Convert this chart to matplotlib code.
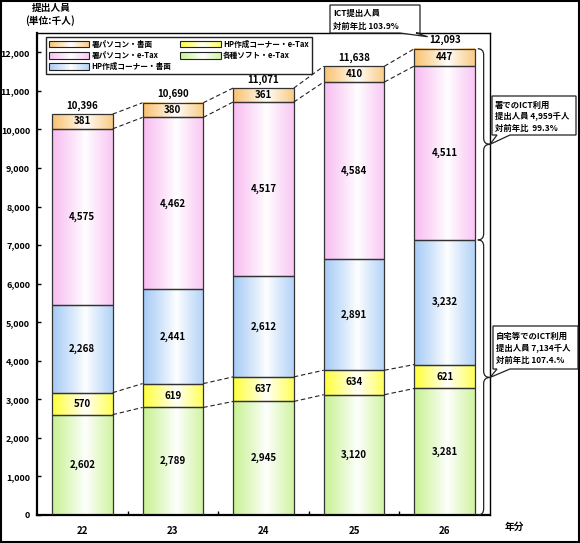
import numpy as np
import matplotlib
matplotlib.use('Agg')
import matplotlib.pyplot as plt
from matplotlib.patches import Rectangle, Polygon, PathPatch
from matplotlib.path import Path
from matplotlib.legend_handler import HandlerBase
import matplotlib.colors as mcolors

plt.rcParams['font.family'] = ['Noto Sans CJK JP', 'DejaVu Sans']
plt.rcParams['font.weight'] = 'bold'

# ---- data ----
years = ['22', '23', '24', '25', '26']
soft_etax = [2602, 2789, 2945, 3120, 3281]      # 各種ソフト・e-Tax
hp_etax = [570, 619, 637, 634, 621]             # HP作成コーナー・e-Tax
hp_paper = [2268, 2441, 2612, 2891, 3232]       # HP作成コーナー・書面
office_etax = [4575, 4462, 4517, 4584, 4511]    # 署パソコン・e-Tax
office_paper = [381, 380, 361, 410, 447]        # 署パソコン・書面
totals = [10396, 10690, 11071, 11638, 12093]

series_names = ['各種ソフト・e-Tax', 'HP作成コーナー・e-Tax', 'HP作成コーナー・書面',
                '署パソコン・e-Tax', '署パソコン・書面']
series_vals = [soft_etax, hp_etax, hp_paper, office_etax, office_paper]
series_colors = ['#c8f292', '#ffff3a', '#a6cbf6', '#f8bdf2', '#f9c270']

legend_order = [4, 3, 2, 1, 0]

office_callout = ['署でのICT利用', '提出人員 4,959千人', '対前年比  99.3%']
home_callout = ['自宅等でのICT利用', '提出人員 7,134千人', '対前年比 107.4.%']
total_callout = ['ICT提出人員', '対前年比 103.9%']

W, H = 580, 543
FS = 7.0
TFS = 6.5
CFS = 6.0


def grad_color(color, t):
    c = np.array(mcolors.to_rgb(color))
    f = (abs(t - 0.55) / 0.55) ** 0.9
    f = np.clip(f, 0, 1)
    return c * f + np.ones(3) * (1 - f)


def grad_img(color, n=64):
    ts = np.linspace(0, 1, n)
    return np.array([[grad_color(color, t) for t in ts]])


class GradHandler(HandlerBase):
    def create_artists(self, legend, orig_handle, xdescent, ydescent,
                       width, height, fontsize, trans):
        c = orig_handle.get_facecolor()
        n = 30
        arts = []
        for i in range(n):
            t = (i + 0.5) / n
            arts.append(Rectangle((-xdescent + i * width / n, -ydescent),
                                  width / n * 1.08, height,
                                  facecolor=grad_color(c, t), edgecolor='none',
                                  transform=trans))
        arts.append(Rectangle((-xdescent, -ydescent), width, height,
                              facecolor='none', edgecolor='#222222', lw=0.8,
                              transform=trans))
        return arts


fig = plt.figure(figsize=(W / 100, H / 100), dpi=100)
ax = fig.add_axes([37 / W, 28 / H, 453 / W, 482 / H])

x = np.arange(len(years))
w = 0.67
bottom = np.zeros(len(years))
tops = []
for vals, color, name in zip(series_vals, series_colors, series_names):
    bars = ax.bar(x, vals, w, bottom=bottom, color='none', edgecolor='#333333',
                  lw=0.9, zorder=3)
    img = grad_img(color)
    for b, v in zip(bars, vals):
        ax.imshow(img, extent=(b.get_x(), b.get_x() + b.get_width(),
                               b.get_y(), b.get_y() + b.get_height()),
                  aspect='auto', zorder=2, interpolation='bilinear')
        ax.text(b.get_x() + b.get_width() / 2, b.get_y() + b.get_height() / 2,
                f'{v:,}', ha='center', va='center', fontsize=FS,
                fontweight='bold', zorder=5)
    bottom = bottom + np.array(vals)
    tops.append(bottom.copy())

# dashed connectors
for lvl in [tops[0], tops[1], tops[3], tops[4]]:
    for i in range(len(x) - 1):
        ax.plot([x[i] + w / 2, x[i + 1] - w / 2], [lvl[i], lvl[i + 1]],
                ls=(0, (4, 2.5)), color='#222222', lw=0.8, zorder=4)

# totals
for xi, top, t in zip(x, tops[4], totals):
    ax.annotate(f'{t:,}', (xi, top), xytext=(0, 2.5), textcoords='offset points',
                ha='center', va='bottom', fontsize=FS, fontweight='bold')

ax.set_xlim(-0.5, 4.5)
ax.set_ylim(0, 12500)
ax.set_yticks(np.arange(0, 12001, 1000))
ax.set_yticklabels([f'{v:,}' for v in range(0, 12001, 1000)])
ax.set_xticks(x)
ax.set_xticklabels(years)
ax.set_xticks(x[:-1] + 0.5, minor=True)
ax.tick_params(axis='x', which='major', length=0, pad=8, labelsize=FS)
ax.tick_params(axis='x', which='minor', direction='in', length=3, width=1)
ax.tick_params(axis='y', direction='in', length=3, width=1, pad=5, labelsize=TFS)
for lab in ax.get_xticklabels() + ax.get_yticklabels():
    lab.set_fontweight('bold')
for s in ['left', 'bottom']:
    ax.spines[s].set_linewidth(1.6)
for s in ['top', 'right']:
    ax.spines[s].set_linewidth(1.0)


def brace(y_top, y_bot):
    x0 = 4 + w / 2 + 0.03
    xl = 4.43
    x1 = 4.5
    r = 160
    ym = (y_top + y_bot) / 2
    verts = [(x0, y_top), (xl, y_top), (xl, y_top - r),
             (xl, ym + r), (xl, ym), (x1, ym),
             (xl, ym), (xl, ym - r),
             (xl, y_bot + r), (xl, y_bot), (x0, y_bot)]
    codes = [Path.MOVETO, Path.CURVE3, Path.CURVE3, Path.LINETO,
             Path.CURVE3, Path.CURVE3, Path.CURVE3, Path.CURVE3,
             Path.LINETO, Path.CURVE3, Path.CURVE3]
    ax.add_patch(PathPatch(Path(verts, codes), facecolor='none',
                           edgecolor='#222222', lw=0.9, clip_on=False, zorder=6))
    return (x1, ym)


tip1 = brace(tops[4][4], tops[2][4])
tip2 = brace(tops[2][4], 0)


def to_px(pt):
    d = ax.transData.transform(pt)
    return d[0], H - d[1]


def callout(box, tail, tip, lines, tx, ty, dy):
    x0, y0, x1, y1 = box
    ta, tb = tail
    pts = [(x0, y0), (x1, y0), (x1, y1), (tb, y1), tip, (ta, y1), (x0, y1)]
    pts = [(px / W, 1 - py / H) for px, py in pts]
    fig.patches.append(Polygon(pts, closed=True, facecolor='white',
                               edgecolor='#222222', lw=0.9,
                               transform=fig.transFigure, zorder=10))
    for i, line in enumerate(lines):
        fig.text(tx / W, 1 - (ty + i * dy) / H, line, ha='left', va='center',
                 fontsize=CFS, fontweight='bold', zorder=11)


callout((492, 96, 576, 135), (497, 510), to_px(tip1), office_callout, 495, 105, 12)
callout((493, 326, 578, 369), (497, 510), to_px(tip2), home_callout, 496, 336, 12.5)
tx, ty = to_px((4, tops[4][4]))
callout((330, 5, 420, 33), (400, 416), (tx - 17, ty - 12), total_callout, 333, 13, 13)

# legend
proxies = [Rectangle((0, 0), 1, 1, facecolor=series_colors[i]) for i in legend_order]
labels = [series_names[i] for i in legend_order]
leg = fig.legend(proxies, labels, loc='upper left',
                 bbox_to_anchor=(46 / W, 1 - 37 / H), ncol=2, fontsize=5.5,
                 handlelength=5.3, handleheight=0.9, frameon=True, fancybox=False,
                 edgecolor='#222222', framealpha=1, borderpad=0.35,
                 columnspacing=1.2, labelspacing=0.3, handletextpad=0.3,
                 borderaxespad=0, handler_map={Rectangle: GradHandler()})
leg.get_frame().set_linewidth(1.0)
for t in leg.get_texts():
    t.set_fontweight('bold')

fig.text(32 / W, 1 - 8 / H, '提出人員', ha='left', va='center', fontsize=FS, fontweight='bold')
fig.text(25 / W, 1 - 21 / H, '(単位:千人)', ha='left', va='center', fontsize=FS, fontweight='bold')
fig.text(505 / W, 1 - 527 / H, '年分', ha='left', va='center', fontsize=FS, fontweight='bold')

fig.patches.append(Rectangle((0.002, 0.002), 0.996, 0.996, transform=fig.transFigure,
                             fill=False, lw=1.5, edgecolor='black', zorder=0))

fig.savefig('out.png', dpi=100)
